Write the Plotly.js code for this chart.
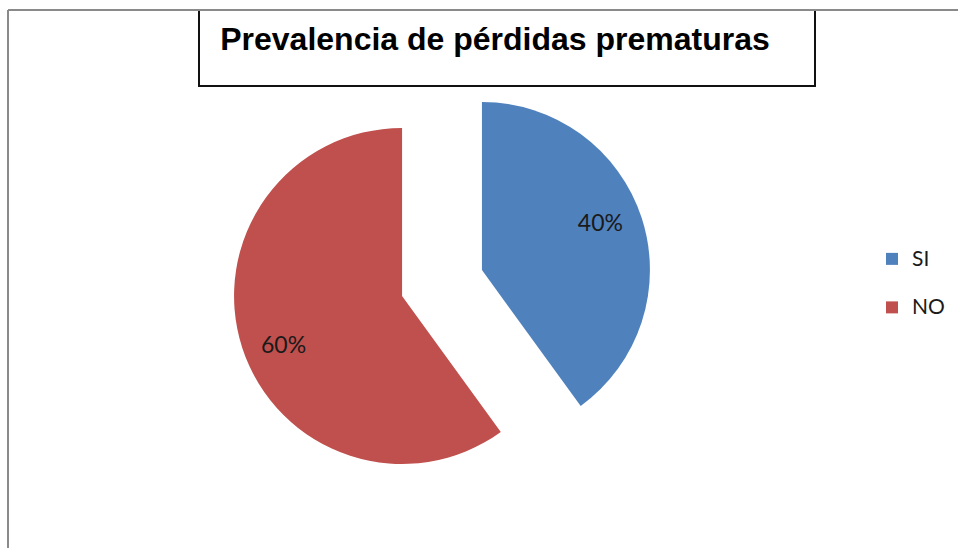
<!DOCTYPE html>
<html>
<head>
<meta charset="utf-8">
<script src="https://cdn.plot.ly/plotly-3.0.1.min.js"></script>
<style>html,body{margin:0;padding:0;background:#fff;}#chart{width:958px;height:548px;}</style>
</head>
<body>
<div id="chart"></div>
<script>
const categories = ["SI", "NO"];
const values = [40, 60];
const sliceColors = ["#4F81BD", "#C0504D"];
const titleText = "Prevalencia de pérdidas prematuras";

const pieDomain = { x: [232/958, 652/958], y: [55/548, 475/548] };
const legendLabels = categories.map(c => "<span style='font-size:21px'>" + c + "</span><br> ");

// Main pie: slices and legend
const pieTrace = {
  type: "pie",
  labels: legendLabels,
  values: values,
  sort: false,
  direction: "clockwise",
  rotation: 0,
  pull: [0.25, 0.25],
  marker: { colors: sliceColors, line: { width: 0 } },
  textinfo: "none",
  domain: pieDomain,
  hoverinfo: "percent"
};

// Same pie, transparent, with a hole so Plotly places the percentage labels further out
const labelTrace = {
  type: "pie",
  labels: legendLabels,
  values: values,
  sort: false,
  direction: "clockwise",
  rotation: -3,
  pull: [0.25, 0.25],
  hole: 0.52,
  marker: { colors: ["rgba(0,0,0,0)", "rgba(0,0,0,0)"], line: { width: 0 } },
  texttemplate: "%{percent:.0%}",
  textposition: "inside",
  insidetextorientation: "horizontal",
  textfont: { family: "Lato, 'Open Sans', sans-serif", size: 23, color: "#1a1a1a" },
  domain: pieDomain,
  showlegend: false,
  hoverinfo: "skip"
};

const layout = {
  width: 958,
  height: 548,
  margin: { l: 0, r: 0, t: 0, b: 0 },
  paper_bgcolor: "#ffffff",
  plot_bgcolor: "#ffffff",
  title: {
    text: "<b>" + titleText + "</b>",
    font: { family: "'Liberation Sans', Arial, sans-serif", size: 32, color: "#000000" },
    x: 495/958, xanchor: "center", xref: "paper",
    y: 1 - 39/548, yanchor: "middle", yref: "paper"
  },
  showlegend: true,
  legend: {
    x: 872/958, xanchor: "left",
    y: 1 - 241/548, yanchor: "top",
    valign: "top",
    font: { family: "Lato, 'Open Sans', sans-serif", size: 17.5, color: "#1a1a1a" },
    bgcolor: "rgba(0,0,0,0)"
  },
  shapes: [
    { type: "rect", xref: "paper", yref: "paper", x0: 199/958, x1: 815/958, y0: 1 - 86/548, y1: 1 - 10/548,
      line: { color: "#111111", width: 2 }, fillcolor: "rgba(0,0,0,0)" },
    { type: "line", xref: "paper", yref: "paper", x0: 8/958, x1: 1, y0: 1 - 10/548, y1: 1 - 10/548,
      line: { color: "#8a8a8a", width: 2 } },
    { type: "line", xref: "paper", yref: "paper", x0: 8/958, x1: 8/958, y0: 0, y1: 1 - 10/548,
      line: { color: "#8a8a8a", width: 2 } }
  ]
};

Plotly.newPlot("chart", [pieTrace, labelTrace], layout, { staticPlot: true, displayModeBar: false });
</script>
</body>
</html>
